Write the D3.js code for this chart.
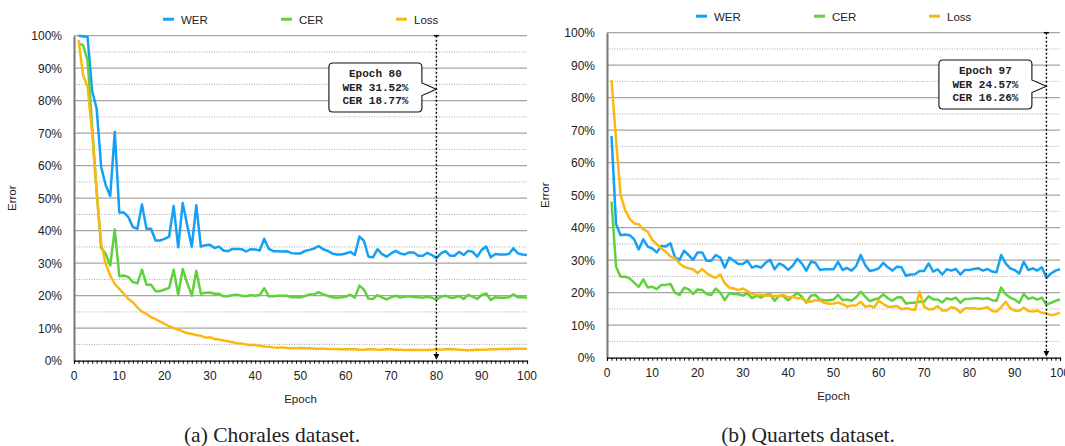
<!DOCTYPE html>
<html>
<head>
<meta charset="utf-8">
<script src="https://cdn.jsdelivr.net/npm/d3@7"></script>
<style>
    body { margin: 0; background: #fff; }
    text { font-family: "Liberation Sans", Arial, Helvetica, sans-serif; fill: #222; }
</style>
</head>
<body>
<div id="chart"></div>
<script>
const seriesNames = ["WER", "CER", "Loss"];
const seriesColors = ["#14a0f5", "#5fd23b", "#fcb812"];
const yTicks = [0, 10, 20, 30, 40, 50, 60, 70, 80, 90, 100];
const yMinor = [5, 15, 25, 35, 45, 55, 65, 75, 85, 95];
const xTicks = [0, 10, 20, 30, 40, 50, 60, 70, 80, 90, 100];

const choralesWER = [
    100, 99.8, 99.6, 83, 77.6, 59.6, 54, 50.7, 70.4, 45.6,
    45.6, 44.2, 41.1, 40.6, 48.1, 40.6, 40.6, 37, 37, 37.5,
    38.2, 47.6, 34.9, 48.5, 41.6, 35.1, 47.8, 35.1, 35.5, 35.7,
    34.7, 35.1, 33.9, 33.7, 34.4, 34.4, 34.3, 33.6, 34.3, 34.2,
    33.9, 37.5, 34.4, 33.7, 33.7, 33.6, 33.7, 33.1, 33.0, 33.0,
    33.8, 34.1, 34.5, 35.3, 34.3, 33.8, 33.0, 32.7, 32.7, 33.0,
    33.5, 32.5, 38.2, 36.9, 32.0, 31.8, 34.3, 32.8, 32.0, 33.0,
    33.8, 33.0, 32.7, 33.3, 33.3, 32.3, 32.3, 33.2, 32.5, 31.5,
    33.0, 33.7, 32.3, 32.3, 33.5, 32.5, 33.8, 33.5, 32.0, 34.1,
    35.1, 31.8, 32.8, 32.7, 32.7, 32.8, 34.6, 33.0, 32.7, 32.5
];
const choralesCER = [
    97.6, 97.1, 92.5, 72, 52, 34.7, 32.9, 29.3, 40.4, 26.0,
    26.2, 25.7, 24.2, 23.8, 28.0, 23.4, 23.4, 21.4, 21.4, 21.9,
    22.4, 28.0, 20.3, 28.2, 23.9, 20.0, 27.7, 20.6, 20.9, 21.0,
    20.6, 20.6, 19.8, 19.8, 20.2, 20.3, 20.0, 19.8, 20.2, 20.0,
    20.2, 22.3, 19.8, 19.8, 20.0, 20.0, 20.0, 19.5, 19.5, 19.5,
    19.9, 20.4, 20.4, 21.1, 20.4, 20.0, 19.5, 19.4, 19.5, 19.7,
    20.3, 19.4, 23.1, 21.9, 19.1, 19.0, 20.2, 19.5, 18.9, 19.5,
    20.0, 19.4, 19.7, 19.8, 19.6, 19.5, 19.4, 19.7, 19.4, 18.8,
    19.7, 20.0, 19.4, 19.4, 19.9, 19.0, 20.2, 19.7, 19.0, 20.2,
    20.7, 18.7, 19.5, 19.4, 19.4, 19.5, 20.4, 19.5, 19.5, 19.4
];
const choralesLoss = [
    98.7, 87.9, 84.3, 70, 52, 36, 29.8, 26.2, 23.6, 22.1,
    20.6, 19.0, 18.0, 16.4, 15.1, 14.4, 13.4, 12.8, 12.0, 11.3,
    10.6, 10.0, 9.6, 9.0, 8.5, 8.2, 7.9, 7.7, 7.1, 7.2,
    6.7, 6.5, 6.2, 6.0, 5.7, 5.4, 5.3, 5.0, 4.8, 4.8,
    4.6, 4.4, 4.3, 4.1, 4.0, 4.1, 3.9, 3.8, 3.8, 3.9,
    3.8, 3.8, 3.7, 3.7, 3.7, 3.6, 3.6, 3.6, 3.5, 3.5,
    3.5, 3.5, 3.4, 3.4, 3.5, 3.5, 3.4, 3.4, 3.5, 3.5,
    3.4, 3.4, 3.3, 3.3, 3.4, 3.3, 3.3, 3.3, 3.4, 3.5,
    3.4, 3.5, 3.6, 3.5, 3.4, 3.3, 3.2, 3.3, 3.4, 3.4,
    3.4, 3.5, 3.5, 3.6, 3.6, 3.6, 3.7, 3.7, 3.7, 3.7
];

const quartetsWER = [
    68.2, 41.1, 37.7, 37.9, 37.7, 36.4, 33.3, 36.4, 34.2, 33.6,
    32.4, 34.4, 34.2, 35.2, 30.9, 30.1, 32.9, 31.6, 30.1, 32.4,
    32.4, 29.8, 29.8, 31.6, 30.8, 27.7, 30.8, 29.8, 28.8, 28.8,
    29.8, 27.7, 28.2, 27.7, 29.2, 30.1, 27.2, 29.0, 28.3, 27.0,
    28.3, 30.4, 29.0, 26.8, 29.5, 29.2, 27.0, 27.2, 27.2, 27.2,
    29.5, 27.0, 27.6, 26.8, 28.2, 31.6, 28.5, 26.7, 27.0, 27.5,
    29.2, 27.8, 26.8, 28.0, 27.8, 25.2, 25.6, 25.7, 26.7, 26.7,
    29.0, 26.5, 27.2, 25.6, 27.2, 26.8, 27.3, 25.6, 27.0, 27.0,
    27.3, 27.5, 26.8, 27.3, 26.5, 26.3, 31.6, 29.0, 27.5, 27.0,
    25.9, 29.5, 27.0, 27.5, 26.8, 27.8, 24.6, 25.9, 26.8, 27.2
];
const quartetsCER = [
    48.0, 28.0, 24.9, 24.9, 24.4, 23.1, 21.8, 24.1, 21.6, 21.8,
    21.1, 22.4, 22.4, 22.7, 20.0, 19.3, 21.5, 21.1, 19.6, 21.0,
    20.8, 19.6, 19.3, 21.3, 20.0, 17.7, 19.8, 19.6, 19.5, 19.1,
    19.8, 18.3, 19.1, 18.5, 19.3, 19.5, 17.5, 19.1, 18.8, 17.7,
    18.8, 20.0, 18.8, 16.9, 19.1, 19.3, 17.9, 17.7, 17.7, 17.9,
    19.3, 17.7, 17.9, 17.5, 18.6, 20.3, 18.8, 17.4, 17.9, 18.3,
    19.5, 18.3, 17.5, 18.5, 18.6, 16.7, 16.9, 16.9, 17.2, 17.2,
    18.9, 17.9, 17.9, 17.0, 18.3, 17.9, 18.5, 16.9, 18.1, 18.1,
    18.3, 18.3, 18.1, 18.3, 17.7, 17.5, 21.6, 19.5, 18.5, 17.9,
    16.9, 19.6, 18.1, 18.5, 17.9, 18.5, 16.3, 16.9, 17.5, 17.9
];
const quartetsLoss = [
    85.4, 67.0, 50.1, 45.4, 42.7, 41.3, 41.1, 39.5, 38.8, 36.2,
    34.9, 33.6, 32.6, 31.1, 30.6, 29.0, 28.0, 27.5, 27.2, 26.0,
    27.3, 26.0, 25.1, 24.6, 25.6, 22.9, 21.6, 21.3, 20.8, 21.3,
    20.5, 19.6, 19.3, 19.3, 19.1, 19.1, 19.0, 19.0, 19.3, 18.5,
    18.8, 18.3, 18.3, 17.2, 17.2, 17.7, 17.5, 16.9, 16.6, 16.7,
    17.0, 16.5, 15.7, 16.1, 16.1, 17.2, 15.7, 16.0, 15.5, 17.5,
    16.5, 15.7, 15.7, 15.9, 14.9, 15.2, 14.9, 14.7, 20.3, 15.7,
    14.9, 14.9, 15.9, 14.5, 14.5, 15.5, 15.2, 13.9, 15.2, 15.2,
    15.2, 15.0, 15.2, 15.5, 14.4, 14.2, 15.5, 17.2, 15.2, 14.5,
    14.4, 15.4, 14.4, 14.2, 14.5, 13.8, 13.6, 13.1, 13.3, 13.9
];

const choralesNote = ["Epoch 80", "WER 31.52%", "CER 18.77%"];
const quartetsNote = ["Epoch 97", "WER 24.57%", "CER 16.26%"];

const svg = d3.select("#chart").append("svg")
    .attr("width", 1065)
    .attr("height", 446);

svg.append("defs").append("marker")
    .attr("id", "arrow")
    .attr("viewBox", "0 0 10 10")
    .attr("refX", 10).attr("refY", 5)
    .attr("markerWidth", 6).attr("markerHeight", 6)
    .attr("markerUnits", "userSpaceOnUse")
    .attr("orient", "auto")
    .append("path")
    .attr("d", "M0,0 L10,5 L0,10 Z")
    .attr("fill", "#000");

function draw_panel(p) {
    const x = d3.scaleLinear().domain([0, 100]).range([p.left, p.left + 453]);
    const y = d3.scaleLinear().domain([0, 100]).range([p.top + 325, p.top]);
    const g = svg.append("g");

    // grid
    g.selectAll(".minor").data(yMinor).join("line")
        .attr("x1", x(0)).attr("x2", x(100))
        .attr("y1", d => y(d)).attr("y2", d => y(d))
        .attr("stroke", "#a8a8a8").attr("stroke-width", 1)
        .attr("stroke-dasharray", "1,1.5");
    g.selectAll(".major").data(yTicks.slice(1)).join("line")
        .attr("x1", x(0)).attr("x2", x(100))
        .attr("y1", d => y(d)).attr("y2", d => y(d))
        .attr("stroke", "#a4a4a4").attr("stroke-width", 1.3);

    // y axis
    const yAxis = g.append("g")
        .attr("transform", `translate(${x(0)},0)`)
        .call(d3.axisLeft(y).tickValues(yTicks).tickSize(0).tickPadding(12).tickFormat(d => d + "%"));
    yAxis.select(".domain").attr("stroke", "#777").attr("stroke-width", 2);
    yAxis.selectAll("text").style("font-size", "12px")
        .style("font-family", "'Liberation Sans', Arial, sans-serif").attr("fill", "#222");

    // x axis with a tick on every epoch
    const xAxis = g.append("g")
        .attr("transform", `translate(0,${y(0)})`)
        .call(d3.axisBottom(x).ticks(100).tickSize(3).tickFormat(""));
    xAxis.select(".domain").attr("stroke", "#000").attr("stroke-width", 1.2);
    xAxis.selectAll(".tick line").attr("stroke", "#000").attr("stroke-width", 1);
    g.append("g").selectAll("text").data(xTicks).join("text")
        .attr("x", d => x(d)).attr("y", y(0) + 19)
        .attr("text-anchor", "middle")
        .style("font-size", "12px")
        .text(d => d);

    // series
    const line = d3.line()
        .x((d, i) => x(i + 1))
        .y(d => y(d));
    [p.wer, p.cer, p.loss].forEach((s, k) => {
        g.append("path")
            .datum(s)
            .attr("d", line)
            .attr("fill", "none")
            .attr("stroke", seriesColors[k])
            .attr("stroke-width", 2.5)
            .attr("stroke-linejoin", "round");
    });

    // legend
    const lg = g.append("g").attr("transform", `translate(${x(50) - 137.5},${p.top - 16.5})`);
    const offsets = [0, 118, 233];
    seriesNames.forEach((n, k) => {
        lg.append("line")
            .attr("x1", offsets[k]).attr("x2", offsets[k] + 11)
            .attr("y1", 0).attr("y2", 0)
            .attr("stroke", seriesColors[k]).attr("stroke-width", 3);
        lg.append("text")
            .attr("x", offsets[k] + 18).attr("y", 4.5)
            .style("font-size", "11.5px")
            .text(n);
    });

    // axis titles
    g.append("text")
        .attr("transform", `translate(${p.left - 58},${y(50)}) rotate(-90)`)
        .attr("text-anchor", "middle")
        .style("font-size", "11.5px")
        .text("Error");
    g.append("text")
        .attr("x", x(50)).attr("y", y(0) + 42)
        .attr("text-anchor", "middle")
        .style("font-size", "11.5px")
        .text("Epoch");

    // marked epoch
    const mx = x(p.mark);
    g.append("line")
        .attr("x1", mx).attr("x2", mx)
        .attr("y1", y(100)).attr("y2", y(0) - 1)
        .attr("stroke", "#000").attr("stroke-width", 1.4)
        .attr("stroke-dasharray", "2,2")
        .attr("marker-end", "url(#arrow)");
    g.append("line")
        .attr("x1", mx - 2.5).attr("x2", mx + 2.5)
        .attr("y1", y(100)).attr("y2", y(100))
        .attr("stroke", "#000").attr("stroke-width", 1.5);

    // callout box
    const bw = 93, bh = 49, r = 4;
    const bx = mx - 14.5 - bw, by = p.top + 27.3;
    const d = `M${bx + r},${by} H${bx + bw - r} Q${bx + bw},${by} ${bx + bw},${by + r}
        V${by + 20} L${mx},${by + 26.3} L${bx + bw},${by + 32.5}
        V${by + bh - r} Q${bx + bw},${by + bh} ${bx + bw - r},${by + bh}
        H${bx + r} Q${bx},${by + bh} ${bx},${by + bh - r}
        V${by + r} Q${bx},${by} ${bx + r},${by} Z`;
    g.append("path")
        .attr("d", d)
        .attr("fill", "#fff")
        .attr("stroke", "#111")
        .attr("stroke-width", 1.1);
    g.append("g").selectAll("text").data(p.note).join("text")
        .attr("x", bx + bw / 2)
        .attr("y", (t, i) => by + 14.3 + i * 13.4)
        .attr("text-anchor", "middle")
        .style("font-family", "'Liberation Mono', 'Courier New', monospace")
        .style("font-weight", "bold")
        .style("font-size", "11px")
        .text(t => t);

    // caption
    svg.append("text")
        .attr("x", p.captionX).attr("y", 442)
        .attr("text-anchor", "middle")
        .style("font-family", "'Liberation Serif', 'Times New Roman', serif")
        .style("font-size", "21.5px")
        .attr("fill", "#111")
        .text(p.caption);
}

draw_panel({
    left: 74, top: 35.7,
    wer: choralesWER, cer: choralesCER, loss: choralesLoss,
    mark: 80, note: choralesNote,
    caption: "(a) Chorales dataset.", captionX: 272
});
draw_panel({
    left: 607, top: 32.7,
    wer: quartetsWER, cer: quartetsCER, loss: quartetsLoss,
    mark: 97, note: quartetsNote,
    caption: "(b) Quartets dataset.", captionX: 808
});
</script>
</body>
</html>
